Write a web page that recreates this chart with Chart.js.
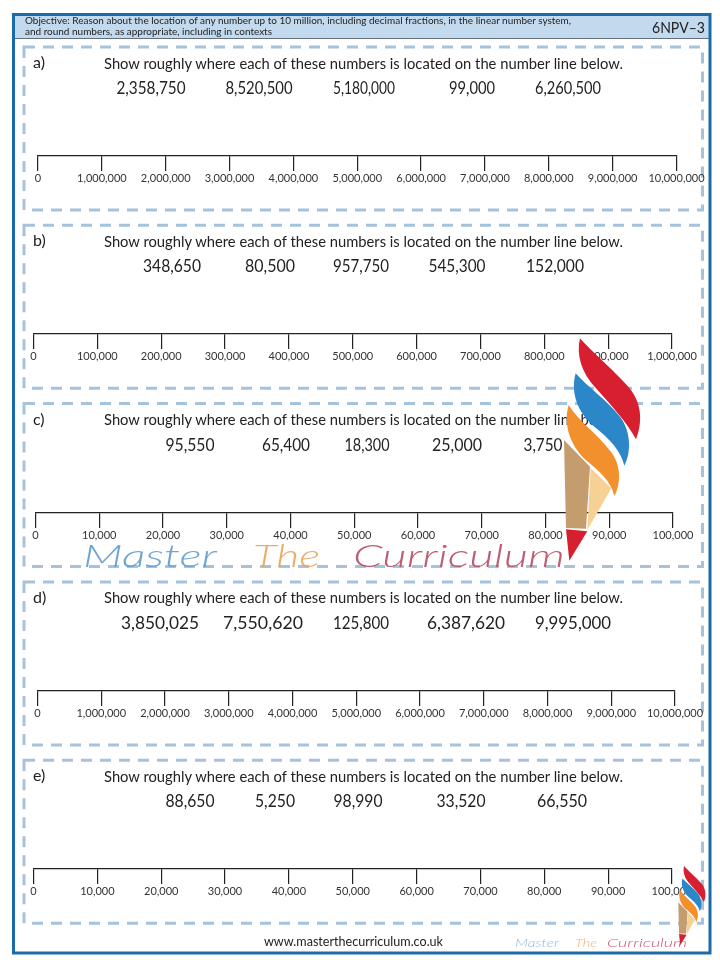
<!DOCTYPE html>
<html>
<head>
<meta charset="utf-8">
<script src="https://cdn.jsdelivr.net/npm/chart.js@4.4.1/dist/chart.umd.min.js"></script>
<style>
  html, body { margin: 0; padding: 0; background: #fff; }
  #page { position: relative; width: 720px; height: 960px; overflow: hidden; }
  .layer { position: absolute; left: 0; top: 0; }
  canvas { position: absolute; left: 0; }
</style>
</head>
<body>
<div id="page">
  <svg id="bg" class="layer" width="720" height="960" xmlns="http://www.w3.org/2000/svg"></svg>
  <div id="charts" class="layer" style="width:720px;height:960px"></div>
  <svg id="fg" class="layer" width="720" height="960" xmlns="http://www.w3.org/2000/svg"></svg>
</div>
<script>
// ---------- DATA ----------
const objectiveLine1 = "Objective:  Reason about the location of any number up to 10 million, including decimal fractions, in the linear number system,";
const objectiveLine2 = "and round numbers, as appropriate, including in contexts";
const code = "6NPV\u20133";
const instruction = "Show roughly where each of these numbers is located on the number line below.";
const sectionLabels = ["a)", "b)", "c)", "d)", "e)"];

const numbersA = ["2,358,750", "8,520,500", "5,180,000", "99,000", "6,260,500"];
const numbersB = ["348,650", "80,500", "957,750", "545,300", "152,000"];
const numbersC = ["95,550", "65,400", "18,300", "25,000", "3,750"];
const numbersD = ["3,850,025", "7,550,620", "125,800", "6,387,620", "9,995,000"];
const numbersE = ["88,650", "5,250", "98,990", "33,520", "66,550"];

const ticksTenMillion = [0, 1000000, 2000000, 3000000, 4000000, 5000000, 6000000, 7000000, 8000000, 9000000, 10000000];
const labelsTenMillion = ["0", "1,000,000", "2,000,000", "3,000,000", "4,000,000", "5,000,000", "6,000,000", "7,000,000", "8,000,000", "9,000,000", "10,000,000"];
const ticksOneMillion = [0, 100000, 200000, 300000, 400000, 500000, 600000, 700000, 800000, 900000, 1000000];
const labelsOneMillion = ["0", "100,000", "200,000", "300,000", "400,000", "500,000", "600,000", "700,000", "800,000", "900,000", "1,000,000"];
const ticksHundredThousand = [0, 10000, 20000, 30000, 40000, 50000, 60000, 70000, 80000, 90000, 100000];
const labelsHundredThousand = ["0", "10,000", "20,000", "30,000", "40,000", "50,000", "60,000", "70,000", "80,000", "90,000", "100,000"];

const footerUrl = "www.masterthecurriculum.co.uk";
const brandWords = ["Master", "The", "Curriculum"];

// ---------- LAYOUT / STYLE ----------
const NS = "http://www.w3.org/2000/svg";
const bg = document.getElementById('bg');
const fg = document.getElementById('fg');
function el(parent, tag, attrs, text) {
  const e = document.createElementNS(NS, tag);
  for (const k in attrs) e.setAttribute(k, attrs[k]);
  if (text !== undefined) e.textContent = text;
  parent.appendChild(e);
  return e;
}
const TEXT_FONT = "Lato, 'Noto Sans', sans-serif";
const SCRIPT_FONT = "Lato, 'Open Sans', sans-serif";
const sections = [
  { numbers: numbersA, ticks: ticksTenMillion, labels: labelsTenMillion, x0: 38, x1: 676.5, numX: [151, 259, 364, 472, 568] },
  { numbers: numbersB, ticks: ticksOneMillion, labels: labelsOneMillion, x0: 33.5, x1: 672, numX: [172, 270, 361, 457, 555] },
  { numbers: numbersC, ticks: ticksHundredThousand, labels: labelsHundredThousand, x0: 35.5, x1: 673, numX: [190, 286, 367, 457, 543] },
  { numbers: numbersD, ticks: ticksTenMillion, labels: labelsTenMillion, x0: 37.5, x1: 675, numX: [160, 263, 361, 466, 573] },
  { numbers: numbersE, ticks: ticksHundredThousand, labels: labelsHundredThousand, x0: 33.5, x1: 672, numX: [190, 275, 358, 461, 562] }
];
const numWidths = {
  "2,358,750": 69, "8,520,500": 67, "5,180,000": 62, "99,000": 46, "6,260,500": 66,
  "348,650": 58, "80,500": 50, "957,750": 56, "545,300": 57, "152,000": 58,
  "95,550": 49, "65,400": 48, "18,300": 45, "25,000": 50, "3,750": 39,
  "3,850,025": 78, "7,550,620": 80, "125,800": 56, "6,387,620": 78, "9,995,000": 76,
  "88,650": 49, "5,250": 40, "98,990": 49, "33,520": 49, "66,550": 50
};

// outer border + header
el(bg, 'rect', { x: 14, y: 15, width: 695, height: 23, fill: '#c2d9ee' });
el(bg, 'line', { x1: 14, y1: 38.5, x2: 709, y2: 38.5, stroke: '#3b4a5a', 'stroke-width': 0.8 });
el(bg, 'rect', { x: 13.5, y: 14.5, width: 696.5, height: 938.5, fill: 'none', stroke: '#1c6aa8', 'stroke-width': 3 });

el(fg, 'text', { x: 25, y: 23.5, 'font-family': TEXT_FONT, 'font-size': 9.6, fill: '#222', textLength: 546, lengthAdjust: 'spacingAndGlyphs' }, objectiveLine1);
el(fg, 'text', { x: 25, y: 35, 'font-family': TEXT_FONT, 'font-size': 9.6, fill: '#222', textLength: 247, lengthAdjust: 'spacingAndGlyphs' }, objectiveLine2);
el(fg, 'text', { x: 705, y: 33, 'text-anchor': 'end', 'font-family': TEXT_FONT, 'font-size': 16, fill: '#222', textLength: 53, lengthAdjust: 'spacingAndGlyphs' }, code);

// sections
const PITCH = 178.3;
const charts = document.getElementById('charts');
sections.forEach((s, i) => {
  const top = 47 + PITCH * i;
  el(bg, 'rect', { x: 24, y: top, width: 678.5, height: 163, fill: 'none', stroke: '#a5c3dc', 'stroke-width': 3, 'stroke-dasharray': '11 8' });
  el(fg, 'text', { x: 33, y: top + 21, 'font-family': TEXT_FONT, 'font-size': 16, fill: '#222' }, sectionLabels[i]);
  el(fg, 'text', { x: 104, y: top + 21.5, 'font-family': TEXT_FONT, 'font-size': 16, fill: '#222', textLength: 519, lengthAdjust: 'spacingAndGlyphs' }, instruction);
  s.numbers.forEach((n, j) => {
    el(fg, 'text', { x: s.numX[j], y: top + 47, 'text-anchor': 'middle', 'font-family': TEXT_FONT, 'font-size': 17, fill: '#222', textLength: numWidths[n], lengthAdjust: 'spacingAndGlyphs' }, n);
  });

  // number line drawn with Chart.js
  const lineY = top + 109;
  const cv = document.createElement('canvas');
  cv.width = 720; cv.height = 40;
  cv.style.top = (lineY - 10) + 'px';
  cv.style.width = '720px'; cv.style.height = '40px';
  charts.appendChild(cv);
  new Chart(cv.getContext('2d'), {
    type: 'scatter',
    data: { datasets: [{ data: [] }] },
    options: {
      responsive: false,
      animation: false,
      events: [],
      devicePixelRatio: 1,
      layout: { padding: { left: s.x0, right: 720 - s.x1, top: 0, bottom: 0 } },
      plugins: { legend: { display: false }, tooltip: { enabled: false } },
      scales: {
        y: { display: false },
        x: {
          type: 'linear', position: 'bottom',
          min: s.ticks[0], max: s.ticks[s.ticks.length - 1],
          afterBuildTicks: sc => { sc.ticks = s.ticks.map(v => ({ value: v })); },
          afterFit: sc => { sc.paddingLeft = 0; sc.paddingRight = 0; sc.height = 30; },
          grid: { drawOnChartArea: false, drawTicks: true, tickLength: 15, color: '#222', lineWidth: 1.2 },
          border: { display: true, color: '#222', width: 1.3 },
          ticks: {
            autoSkip: false, maxRotation: 0, minRotation: 0, padding: 1,
            color: '#333', font: { family: 'Lato', size: 11 },
            callback: (v, idx) => s.labels[idx]
          }
        }
      }
    }
  });
});

// watermark in section c
const wmY = 47 + PITCH * 2 + 163;
const wmStyle = { 'font-family': SCRIPT_FONT, 'font-style': 'italic', 'font-weight': 300, 'font-size': 32, lengthAdjust: 'spacingAndGlyphs', 'fill-opacity': 0.9 };
el(fg, 'text', Object.assign({ x: 83, y: wmY, fill: '#5d9bd0', textLength: 134 }, wmStyle), brandWords[0]);
el(fg, 'text', Object.assign({ x: 253, y: wmY, fill: '#e9a35c', textLength: 67 }, wmStyle), brandWords[1]);
el(fg, 'text', Object.assign({ x: 353, y: wmY, fill: '#b84a60', textLength: 212 }, wmStyle), brandWords[2]);

// footer
el(fg, 'text', { x: 353.5, y: 945.5, 'text-anchor': 'middle', 'font-family': TEXT_FONT, 'font-size': 13, fill: '#222', textLength: 179, lengthAdjust: 'spacingAndGlyphs' }, footerUrl);
const smStyle = { 'font-family': SCRIPT_FONT, 'font-style': 'italic', 'font-weight': 300, 'font-size': 12, lengthAdjust: 'spacingAndGlyphs' };
el(fg, 'text', Object.assign({ x: 515, y: 947, fill: '#8dbbdf', textLength: 44 }, smStyle), brandWords[0]);
el(fg, 'text', Object.assign({ x: 575, y: 947, fill: '#f0b07a', textLength: 22 }, smStyle), brandWords[1]);
el(fg, 'text', Object.assign({ x: 607, y: 947, fill: '#c9566a', textLength: 80 }, smStyle), brandWords[2]);

// torch / pencil logo (decorative)
function logo(tx, ty, sc) {
  const g = el(fg, 'g', { transform: `translate(${tx},${ty}) scale(${sc})` });
  el(g, 'path', { fill: '#d71f30', d: 'M300,55 C330,90 400,150 445,200 C480,240 492,295 468,358 C440,305 392,255 348,205 C305,160 288,105 300,55 Z' });
  el(g, 'path', { fill: '#2b87c8', d: 'M287,160 C322,200 382,242 420,290 C452,332 455,395 433,437 C422,392 390,358 345,322 C296,282 270,222 287,160 Z' });
  el(g, 'path', { fill: '#f1902c', d: 'M266,255 C292,300 352,342 390,392 C424,432 424,490 403,528 C393,482 356,452 320,422 C280,388 246,322 266,255 Z' });
  el(g, 'path', { fill: '#c49c6e', d: 'M252,360 L330,440 L318,626 L258,624 Z' });
  el(g, 'path', { fill: '#f6d196', d: 'M332,444 L394,505 L322,630 Z' });
  el(g, 'path', { fill: '#d71f30', d: 'M258,628 L322,634 L268,722 Z' });
}
logo(480, 320, 1 / 3);
logo(648.4, 859.5, 0.1187);
</script>
</body>
</html>
